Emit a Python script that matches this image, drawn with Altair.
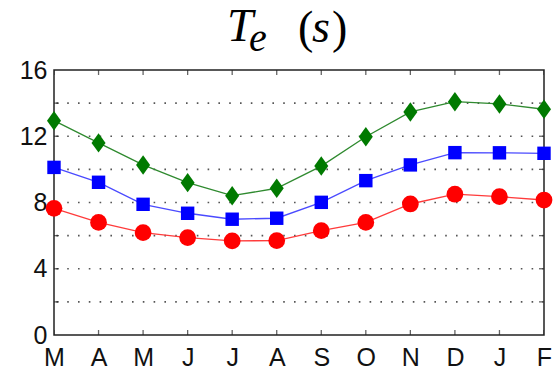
import altair as alt
import pandas as pd

# Monthly values, March through February
months = ["M", "A", "M", "J", "J", "A", "S", "O", "N", "D", "J", "F"]
red_vals = [7.65, 6.8, 6.18, 5.88, 5.68, 5.7, 6.3, 6.8, 7.91, 8.5, 8.35, 8.15]
blue_vals = [10.12, 9.22, 7.89, 7.35, 6.99, 7.05, 8.01, 9.32, 10.27, 11.01, 11.0, 10.97]
green_vals = [12.94, 11.6, 10.27, 9.2, 8.41, 8.86, 10.2, 11.97, 13.47, 14.09, 13.95, 13.63]
series_names = ["red", "blue", "green"]
y_labels = [0, 4, 8, 12, 16]
grid_levels = [2, 4, 6, 8, 10, 12, 14]
tick_levels = [2, 4, 6, 8, 10, 12, 14]

rows = []
for name, vals in zip(series_names, [red_vals, blue_vals, green_vals]):
    for i, v in enumerate(vals):
        rows.append({"idx": i, "month": months[i], "series": name, "value": v})
df = pd.DataFrame(rows)

W, H = 490, 265

x_scale = alt.Scale(domain=[0, 11], nice=False, zero=False)
y_scale = alt.Scale(domain=[0, 16], nice=False)

label_expr = "[" + ",".join(f"'{m}'" for m in months) + "][datum.value]"

x_axis = alt.Axis(
    values=list(range(12)),
    labelExpr=label_expr,
    title=None,
    grid=False,
    domain=False,
    ticks=False,
    labelPadding=10,
    labelFontSize=25,
    labelFont="Liberation Sans",
    labelColor="#111",
    labelFlush=False,
)
y_axis = alt.Axis(
    values=y_labels,
    title=None,
    grid=False,
    domain=False,
    ticks=False,
    labelPadding=7,
    labelFontSize=25,
    labelFont="Liberation Sans",
    labelColor="#111",
    labelFlush=False,
)


def xq(field):
    return alt.X(f"{field}:Q", scale=x_scale, axis=x_axis)


def yq(field):
    return alt.Y(f"{field}:Q", scale=y_scale, axis=y_axis)


# dotted horizontal grid
grid = (
    alt.Chart(pd.DataFrame({"g": grid_levels}))
    .mark_rule(color="#555", strokeWidth=1.6, strokeDash=[1.6, 9.2])
    .encode(y=yq("g"))
)

# inward ticks on all four sides (clipped to the plot box)
tick_df = pd.DataFrame({"idx": list(range(12))})
xt_top = (
    alt.Chart(tick_df)
    .mark_tick(orient="vertical", size=10, thickness=1.3, color="#222", clip=True)
    .encode(x=xq("idx"), y=alt.value(0))
)
xt_bot = (
    alt.Chart(tick_df)
    .mark_tick(orient="vertical", size=10, thickness=1.3, color="#222", clip=True)
    .encode(x=xq("idx"), y=alt.value(H))
)
ytick_df = pd.DataFrame({"v": tick_levels})
yt_left = (
    alt.Chart(ytick_df)
    .mark_tick(orient="horizontal", size=10, thickness=1.3, color="#222", clip=True)
    .encode(y=yq("v"), x=alt.value(0))
)
yt_right = (
    alt.Chart(ytick_df)
    .mark_tick(orient="horizontal", size=10, thickness=1.3, color="#222", clip=True)
    .encode(y=yq("v"), x=alt.value(W))
)

styles = {
    "red": dict(line="#ff3b3b", fill="#ff0000", shape="circle", size=280),
    "blue": dict(line="#4a4aff", fill="#0000ff", shape="square", size=180),
    "green": dict(line="#2f8a2f", fill="#007a00", shape="M0,-1L0.72,0L0,1L-0.72,0Z", size=380),
}

layers = [grid, xt_top, xt_bot, yt_left, yt_right]
for name in series_names:
    st = styles[name]
    base = alt.Chart(df[df["series"] == name])
    line = base.mark_line(color=st["line"], strokeWidth=1.3).encode(
        x=xq("idx"), y=yq("value")
    )
    pts = base.mark_point(
        shape=st["shape"], size=st["size"], filled=True, color=st["fill"], opacity=1
    ).encode(x=xq("idx"), y=yq("value"))
    layers += [line, pts]


def title_piece(text, x, y, size, italic=True):
    return (
        alt.Chart(pd.DataFrame({"t": [text]}))
        .mark_text(
            font="Liberation Serif",
            fontSize=size,
            fontStyle="italic" if italic else "normal",
            align="left",
            baseline="alphabetic",
            color="#000",
        )
        .encode(text="t:N", x=alt.value(x), y=alt.value(y))
    )


# title T_e (s) drawn above the plot box
layers += [
    title_piece("T", 173, -29, 47),
    title_piece("e", 195, -19, 40),
    title_piece("(", 244, -27, 46, italic=False),
    title_piece("s", 258, -28, 46),
    title_piece(")", 278, -27, 46, italic=False),
]

chart = (
    alt.layer(*layers)
    .properties(
        width=W,
        height=H,
        autosize=alt.AutoSizeParams(type="none"),
        padding={"left": 54, "top": 70, "right": 10, "bottom": 38},
        background="white",
    )
    .configure_view(stroke="#222", strokeWidth=1.5)
)

chart.save("out.html", embed_options={"renderer": "svg", "actions": False})
